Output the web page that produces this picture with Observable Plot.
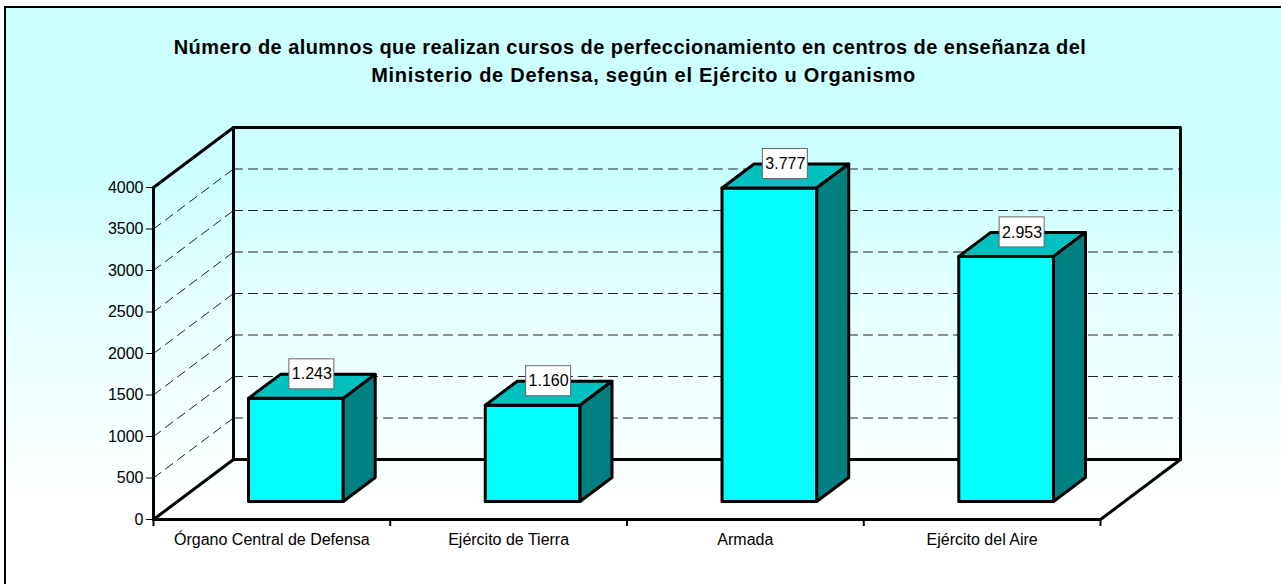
<!DOCTYPE html>
<html lang="es">
<head>
<meta charset="utf-8">
<script src="https://cdn.jsdelivr.net/npm/d3@7"></script>
<script src="https://cdn.jsdelivr.net/npm/@observablehq/plot@0.6"></script>
<style>
html,body{margin:0;padding:0;width:1281px;height:584px;overflow:hidden;background:#fff;}
#frame{position:absolute;left:4px;top:6px;width:1275px;height:600px;border:2px solid #000;
  background:linear-gradient(to bottom,#ccffff 0,#ccffff 170px,#e4ffff 290px,#ffffff 500px);}
.title{position:absolute;top:33px;width:1281px;text-align:center;white-space:nowrap;font:bold 20px/28px "Liberation Sans",Arial,sans-serif;color:#000;}
#t1{left:-10.5px;letter-spacing:.44px;}
#t2{left:3px;top:61px;letter-spacing:.73px;}
#chart{position:absolute;left:0;top:0;}
#chart svg{background:transparent !important;display:block;}
</style>
</head>
<body>
<div id="frame"></div>
<div class="title" id="t1">Número de alumnos que realizan cursos de perfeccionamiento en centros de enseñanza del</div>
<div class="title" id="t2">Ministerio de Defensa, según el Ejército u Organismo</div>
<div id="chart"></div>
<script>
const categories = ["Órgano Central de Defensa", "Ejército de Tierra", "Armada", "Ejército del Aire"];
const values = [1243, 1160, 3777, 2953];
const yTicks = [0, 500, 1000, 1500, 2000, 2500, 3000, 3500, 4000];
const xEdges = [0, 1, 2, 3, 4];
const xCenters = [0.5, 1.5, 2.5, 3.5];

// Oblique projection: depth 0 is the front plane, depth 1 the back wall.
const depthX = 80 / 236.75, depthY = 60 / 0.083;
const P = (cat, val, depth) => ({x: cat + depth * depthX, y: val + depth * depthY});
const poly = (id, pts) => pts.map(([c, v, d]) => ({id, ...P(c, v, d)}));
const halfBar = 0.2, dFront = 0.3, dBack = 0.7;

const frontFaces = [], topFaces = [], sideFaces = [];
values.forEach((v, i) => {
  const l = i + 0.5 - halfBar, r = i + 0.5 + halfBar;
  frontFaces.push(...poly(i, [[l,0,dFront],[r,0,dFront],[r,v,dFront],[l,v,dFront],[l,0,dFront]]));
  topFaces.push(...poly(i, [[l,v,dFront],[r,v,dFront],[r,v,dBack],[l,v,dBack],[l,v,dFront]]));
  sideFaces.push(...poly(i, [[r,0,dFront],[r,0,dBack],[r,v,dBack],[r,v,dFront],[r,0,dFront]]));
});

const gridBack = yTicks.slice(1, -1).flatMap(t => poly(t, [[0,t,1],[4,t,1]]));
const gridSide = yTicks.slice(1, -1).flatMap(t => poly(t, [[0,t,0],[0,t,1]]));
const wallOutline = [
  ...poly("back", [[0,0,1],[0,4000,1],[4,4000,1],[4,0,1],[0,0,1]]),
  ...poly("leftTop", [[0,4000,0],[0,4000,1]]),
  ...poly("leftBottom", [[0,0,0],[0,0,1]]),
  ...poly("rightBottom", [[4,0,0],[4,0,1]]),
  ...poly("front", [[0,0,0],[4,0,0]]),
  ...poly("left", [[0,0,0],[0,4000,0]])
];

const fmt = d3.formatLocale({decimal: ",", thousands: ".", grouping: [3]}).format(",d");
const pxX = 4 / 947, pxY = 4000 / 332;
const labels = values.map((v, i) => {
  const a = P(i + 0.5, v, 0.5), b = P(i + 0.5, v, dBack);
  return {x: a.x, y: b.y, text: fmt(v)};
});
const font = '"Liberation Sans",Arial,sans-serif';

const plot = Plot.plot({
  width: 1281, height: 584,
  marginLeft: 153, marginRight: 181, marginTop: 187, marginBottom: 65,
  style: {background: "transparent", fontFamily: font},
  x: {domain: [0, 4]},
  y: {domain: [0, 4000]},
  marks: [
    Plot.line(gridSide, {x: "x", y: "y", z: "id", stroke: "#222", strokeWidth: 1, strokeDasharray: "9,6"}),
    Plot.line(gridBack, {x: "x", y: "y", z: "id", stroke: "#222", strokeWidth: 1, strokeDasharray: "9,6"}),
    Plot.line(wallOutline, {x: "x", y: "y", z: "id", stroke: "#000", strokeWidth: 3}),
    Plot.axisY({ticks: yTicks, tickSize: 7, tickFormat: d => String(d), fontSize: 16, stroke: "#000", color: "#000", label: null, tickPadding: 3, marginLeft: 153}),
    Plot.axisX({ticks: xEdges, tickSize: 7, tickFormat: () => "", stroke: "#000", strokeWidth: 2, label: null}),
    Plot.axisX({ticks: xCenters, tickSize: 0, tickPadding: 14, tickFormat: d => categories[d - 0.5], fontSize: 16, color: "#000", label: null, lineWidth: 40}),
    Plot.line(frontFaces, {x: "x", y: "y", z: "id", fill: "#00ffff", stroke: "#000", strokeWidth: 3}),
    Plot.line(topFaces, {x: "x", y: "y", z: "id", fill: "#00c0c0", stroke: "#000", strokeWidth: 3}),
    Plot.line(sideFaces, {x: "x", y: "y", z: "id", fill: "#008080", stroke: "#000", strokeWidth: 3}),
    Plot.rect(labels, {x1: d => d.x - 22.5 * pxX, x2: d => d.x + 22.5 * pxX, y1: d => d.y - 15 * pxY, y2: d => d.y + 15 * pxY, fill: "#fff", stroke: "#666", strokeWidth: 1}),
    Plot.text(labels, {x: "x", y: "y", text: "text", fontSize: 16, fill: "#000"})
  ]
});
document.getElementById("chart").appendChild(plot);
</script>
</body>
</html>
